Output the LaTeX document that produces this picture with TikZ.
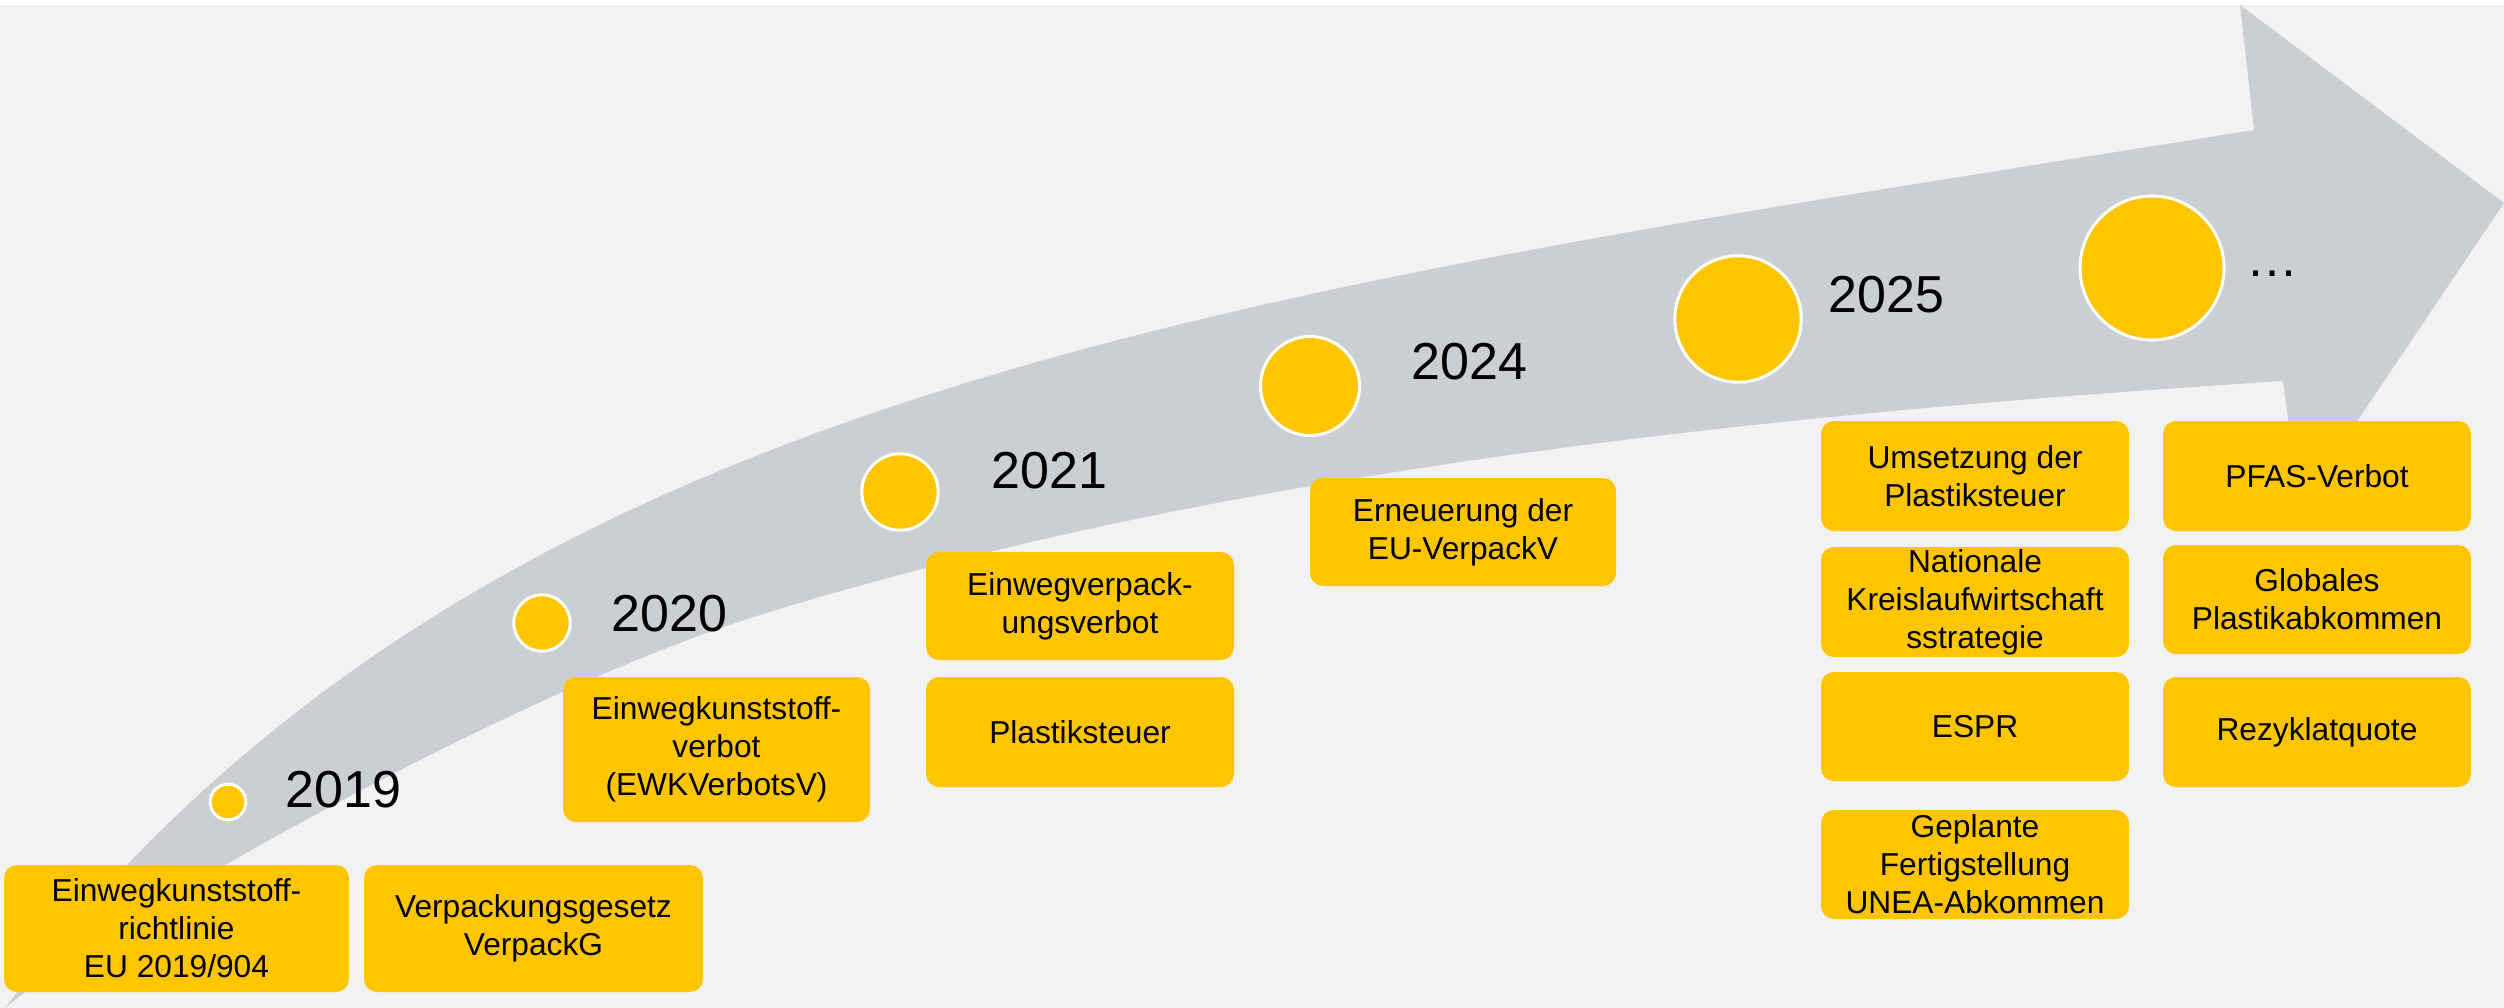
\documentclass[tikz,border=0pt]{standalone}
\usepackage{fontspec}
\setmainfont{Liberation Sans}
\definecolor{bg}{HTML}{F2F2F2}
\definecolor{arrowgray}{HTML}{CBCED3}
\definecolor{ygold}{HTML}{FFC600}
\begin{document}
\begin{tikzpicture}[x=1pt,y=-1pt,
  box/.style={fill=ygold, rounded corners=13pt, align=center, inner sep=0pt,
              font=\fontsize{31.7}{38}\selectfont},
  dot/.style={circle, fill=ygold, draw=white, line width=3pt, inner sep=0pt},
  year/.style={anchor=base west, inner sep=0pt, font=\fontsize{52}{62}\selectfont}]
\useasboundingbox (0,0) rectangle (2504,1008);
\fill[white] (0,0) rectangle (2504,1008);
\fill[bg] (0,5) rectangle (2504,1008);
% curved arrow
\fill[arrowgray] (2254,130) -- (2240,5) -- (2504,203) -- (2300,506) -- (2283,381)
  .. controls (1784,413) and (1237,467) .. (760,615)
  .. controls (521,689) and (120,913) .. (5,1008)
  .. controls (477,386) and (1218,296) .. (2254,130) -- cycle;
% milestones
\node[dot, minimum size=35.6pt] (c2019) at (228,802) {};
\node[dot, minimum size=56.4pt] (c2020) at (542,623) {};
\node[dot, minimum size=76.4pt] (c2021) at (900,492) {};
\node[dot, minimum size=99pt] (c2024) at (1310,386) {};
\node[dot, minimum size=126.4pt] (c2025) at (1738,319) {};
\node[dot, minimum size=144pt] (cmore) at (2152,268) {};
% years
\node[year] (y2019) at (285.5,807) {2019};
\node[year] (y2020) at (611.5,631) {2020};
\node[year] (y2021) at (991.5,488) {2021};
\node[year] (y2024) at (1411.5,380) {2024};
\node[year] (y2025) at (1828.5,313) {2025};
\node[year] (ymore) at (2246,277) {…};
% boxes
\node[box, minimum width=345pt, minimum height=127pt] (b1) at (176.5,928.5) {Einwegkunststoff-\\richtlinie\\EU 2019/904};
\node[box, minimum width=339pt, minimum height=127pt] (b2) at (533.5,928.5) {Verpackungsgesetz\\VerpackG};
\node[box, minimum width=307pt, minimum height=145pt] (b3) at (716.5,749.5) {Einwegkunststoff-\\verbot\\(EWKVerbotsV)};
\node[box, minimum width=308pt, minimum height=108pt] (b4) at (1080,606) {Einwegverpack-\\ungsverbot};
\node[box, minimum width=308pt, minimum height=110pt] (b5) at (1080,732) {Plastiksteuer};
\node[box, minimum width=306pt, minimum height=108pt] (b6) at (1463,532) {Erneuerung der\\EU-VerpackV};
\node[box, minimum width=308pt, minimum height=110pt] (b7) at (1975,476) {Umsetzung der\\Plastiksteuer};
\node[box, minimum width=308pt, minimum height=110pt] (b8) at (1975,602) {Nationale\\Kreislaufwirtschaft\\sstrategie};
\node[box, minimum width=308pt, minimum height=109pt] (b9) at (1975,726.5) {ESPR};
\node[box, minimum width=308pt, minimum height=109pt] (b10) at (1975,864.5) {Geplante\\Fertigstellung\\UNEA-Abkommen};
\node[box, minimum width=308pt, minimum height=110pt] (b11) at (2317,476) {PFAS-Verbot};
\node[box, minimum width=308pt, minimum height=109pt] (b12) at (2317,599.5) {Globales\\Plastikabkommen};
\node[box, minimum width=308pt, minimum height=110pt] (b13) at (2317,732) {Rezyklatquote};
\end{tikzpicture}
\end{document}
